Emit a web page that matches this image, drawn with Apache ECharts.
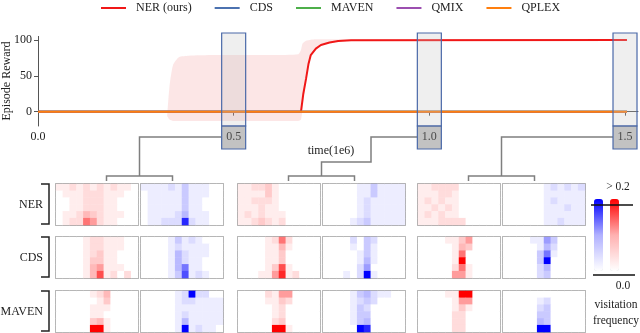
<!DOCTYPE html>
<html>
<head>
<meta charset="utf-8">
<script src="https://cdn.jsdelivr.net/npm/echarts@6/dist/echarts.min.js"></script>
<style>
  html, body { margin: 0; padding: 0; background: #fff; }
  #chart { width: 640px; height: 333px; }
</style>
</head>
<body>
<div id="chart"></div>
<script>
// ===== DATA =====
var methods = ["NER (ours)", "CDS", "MAVEN", "QMIX", "QPLEX"];
var methodColors = ["#f01818", "#4c72b0", "#4daf4a", "#9c4fb0", "#ff7f0e"];

// episode reward vs time (1e6 steps)
var nerT = [0, 0.672, 0.678, 0.685, 0.691, 0.697, 0.71, 0.723, 0.745, 0.767, 0.8, 1.505];
var nerReward = [0, 0, 25, 46, 66, 79, 88, 93, 96.5, 98.7, 99.8, 100];
var baseT = [0, 1.505];
var cdsReward = [0, 0];
var mavenReward = [0, 0];
var qmixReward = [0, 0];
var qplexReward = [0, 0];

// NER shaded band
var bandT = [0.330, 0.336, 0.345, 0.360, 0.385, 0.450, 0.600, 0.665, 0.672, 0.676, 0.685, 0.697, 0.710, 0.723, 0.745, 0.767, 0.800, 1.505];
var bandLow = [-6, -11, -13, -13, -13, -13, -13, -13, -11, 3, 46, 79, 88, 93, 96, 98.5, 99, 99];
var bandHigh = [-6, 35, 65, 76, 78, 79, 79, 80, 86, 95, 99, 100.5, 101, 101, 101, 101, 101, 101];

var xTicks = [0, 0.5, 1.0, 1.5];
var yTicks = [0, 50, 100];
var snapshotT = [0.5, 1.0, 1.5];

var rowNames = ["NER", "CDS", "MAVEN"];

// visitation maps, 6 rows x 12 cols, digit 0..9 -> frequency 0..0.2
var ner05a = ["112121212110", "011122211100", "001122211000", "001122211000", "011243211100", "012265211000"];
var ner05b = ["111121311100", "011111311100", "011111311000", "011111311000", "011112411100", "011222821100"];
var ner10a = ["112231000000", "111131000000", "112221000000", "111211000000", "121211100000", "112321200000"];
var ner10b = ["000001131111", "000001131111", "000001211111", "000001211111", "000001211111", "000012311111"];
var ner15a = ["112222000000", "111221000000", "121211000000", "112121000000", "121211000000", "111222200000"];
var ner15b = ["000000121212", "000000111111", "000000121111", "000000111211", "000000111111", "000000112111"];

var cds05a = ["000012211100", "000012211100", "000012311000", "000013311000", "000014511100", "000014712020"];
var cds05b = ["000013121000", "000012111100", "000014211100", "000014211000", "000014611000", "000013712100"];
var cds10a = ["000012620000", "000011410000", "000011300000", "000011300000", "000013710000", "000115812000"];
var cds10b = ["000020320000", "000010310000", "000001310000", "000001410000", "000002500000", "000102910000"];
var cds15a = ["000011350000", "000001430000", "000001600000", "000001900000", "000002610000", "000005510000"];
var cds15b = ["000011530000", "000001420000", "000003610000", "000003900000", "000002400000", "000002300000"];

var maven05a = ["000001240000", "000000130000", "000001110000", "000001100000", "000003410000", "000009910000"];
var maven05b = ["000001292200", "000001221111", "000001111111", "000001211111", "000001411111", "000001912110"];
var maven10a = ["000021550000", "000011320000", "000001200000", "000001200000", "000002300000", "000009910000"];
var maven10b = ["000013421100", "000012320000", "000013200000", "000013300000", "000013400000", "000009800000"];
var maven15a = ["000011990000", "000001550000", "000001310000", "000002200000", "000002200000", "000002200000"];
var maven15b = ["000000000000", "000001200000", "000002300000", "000003300000", "000004300000", "000009900000"];

var mapRows = [
  [ner05a, ner05b, ner10a, ner10b, ner15a, ner15b],
  [cds05a, cds05b, cds10a, cds10b, cds15a, cds15b],
  [maven05a, maven05b, maven10a, maven10b, maven15a, maven15b]
];

// ===== LAYOUT =====
var FONT = "Liberation Serif";
var panelLeft = [56, 141, 238, 323, 418, 503];
var panelW = 82;
var panelH = 41;
var rowTop = [184, 237, 291];
var gray = "#7f7f7f";

function zip(xs, ys) {
  return xs.map(function (x, i) { return [x, ys[i]]; });
}

function toCells(rows) {
  var out = [];
  rows.forEach(function (r, y) {
    for (var x = 0; x < r.length; x++) {
      out.push([x, y, (+r[x]) / 9 * 0.2]);
    }
  });
  return out;
}

var grids = [{ left: 38, top: 36.4, width: 600, height: 89.6, outerBoundsMode: "none", containLabel: false }];
var xAxes = [{
  type: "value", gridIndex: 0, min: 0, max: 1.5332,
  splitLine: { show: false },
  axisLine: { lineStyle: { color: "#555", width: 1 } },
  axisTick: { customValues: xTicks, length: 4, lineStyle: { color: "#555" } },
  axisLabel: {
    customValues: xTicks, margin: 5, fontFamily: FONT, fontSize: 12, color: "#222",
    formatter: function (v) { return v.toFixed(1); }
  },
  name: "time(1e6)", nameLocation: "middle", nameGap: 19,
  nameTextStyle: { fontFamily: FONT, fontSize: 12, color: "#222", padding: [0, 14, 0, 0] }
}];
var yAxes = [{
  type: "value", gridIndex: 0, min: -20, max: 105,
  splitLine: { show: false },
  axisLine: { show: true, lineStyle: { color: "#555", width: 1 } },
  axisTick: { show: true, customValues: yTicks, length: 4, lineStyle: { color: "#555" } },
  axisLabel: { customValues: yTicks, margin: 6, fontFamily: FONT, fontSize: 12, color: "#222" }
}];

// shaded band as one polygon: upper edge forward, lower edge back
var series = [{
  type: "custom", xAxisIndex: 0, yAxisIndex: 0, silent: true, z: 1,
  data: [0],
  renderItem: function (params, api) {
    var pts = [];
    bandT.forEach(function (t, i) { pts.push(api.coord([t, bandHigh[i]])); });
    for (var i = bandT.length - 1; i >= 0; i--) { pts.push(api.coord([bandT[i], bandLow[i]])); }
    return { type: "polygon", shape: { points: pts, smooth: 0.2 }, style: { fill: "rgba(235,60,60,0.13)" } };
  }
}];
var rewards = [zip(nerT, nerReward), zip(baseT, cdsReward), zip(baseT, mavenReward),
  zip(baseT, qmixReward), zip(baseT, qplexReward)];
methods.forEach(function (m, i) {
  series.push({
    name: m, type: "line", data: rewards[i], symbol: "none",
    lineStyle: { width: 2, color: methodColors[i] }, itemStyle: { color: methodColors[i] }, z: 2
  });
});

var redIdx = [], blueIdx = [];
mapRows.forEach(function (row, r) {
  row.forEach(function (panel, c) {
    var gi = grids.length;
    grids.push({
      left: panelLeft[c], top: rowTop[r], width: panelW, height: panelH, outerBoundsMode: "none",
      show: true, borderColor: gray, borderWidth: 1.5, backgroundColor: "transparent"
    });
    xAxes.push({ type: "category", gridIndex: gi, show: false, data: ["0","1","2","3","4","5","6","7","8","9","10","11"] });
    yAxes.push({ type: "category", gridIndex: gi, show: false, inverse: true, data: ["0","1","2","3","4","5"] });
    (c % 2 === 0 ? redIdx : blueIdx).push(series.length);
    series.push({
      type: "heatmap", xAxisIndex: gi, yAxisIndex: gi, data: toCells(panel),
      emphasis: { disabled: true }, silent: true
    });
  });
});

var chart = echarts.init(document.getElementById("chart"));
chart.setOption({
  animation: false,
  backgroundColor: "#fff",
  legend: {
    data: methods, left: 101, top: 2, padding: 0, icon: "rect", itemWidth: 25, itemHeight: 2, itemGap: 23,
    textStyle: { fontFamily: FONT, fontSize: 12, color: "#222", padding: [0, 0, 0, 5] }
  },
  grid: grids,
  xAxis: xAxes,
  yAxis: yAxes,
  visualMap: [
    {
      type: "continuous", min: 0, max: 0.2, seriesIndex: blueIdx, calculable: false,
      inRange: { color: ["#ffffff", "#b0b0ff", "#0000ff"] }, left: 594, top: 199, itemWidth: 9, itemHeight: 72, padding: 0
    },
    {
      type: "continuous", min: 0, max: 0.2, seriesIndex: redIdx, calculable: false,
      inRange: { color: ["#ffffff", "#ffb0b0", "#ff0000"] }, left: 610, top: 199, itemWidth: 9, itemHeight: 72, padding: 0
    }
  ],
  series: series
});

// ===== DECORATIONS =====
var g = [];
var lineStyle = { stroke: gray, lineWidth: 1.5, fill: null };
var pairCenter = [0, 1, 2].map(function (k) {
  return (panelLeft[2 * k] + panelW + panelLeft[2 * k + 1]) / 2;
});

// y axis title
g.push({
  type: "text", x: 7, y: 81, rotation: Math.PI / 2,
  style: { text: "Episode Reward", font: "12px " + FONT, fill: "#222", align: "center", verticalAlign: "middle" }
});

snapshotT.forEach(function (t, k) {
  var px = chart.convertToPixel({ xAxisIndex: 0 }, t);
  var cx = pairCenter[k];
  var path;
  if (k === 1) {
    path = [[px - 12, 137], [371, 137], [371, 162], [cx, 162], [cx, 176]];
  } else {
    path = [[px - 12, 137], [cx, 137], [cx, 176]];
  }
  g.push({ type: "polyline", shape: { points: path }, style: lineStyle, z: 50 });
  g.push({ type: "polyline", shape: { points: [[cx - 33, 181], [cx - 33, 176], [cx + 33, 176], [cx + 33, 181]] }, style: lineStyle, z: 50 });
  g.push({
    type: "rect", shape: { x: px - 12, y: 33, width: 24, height: 93 },
    style: { fill: "rgba(190,190,190,0.25)", stroke: "#4a69a8", lineWidth: 1.2 }, z: 100
  });
  g.push({
    type: "rect", shape: { x: px - 12, y: 126, width: 24, height: 23 },
    style: { fill: "rgba(120,120,120,0.45)", stroke: "#4a69a8", lineWidth: 1.2 }, z: 100
  });
});

rowNames.forEach(function (name, r) {
  var top = rowTop[r];
  g.push({
    type: "text", x: 43, y: top + 21,
    style: { text: name, font: "12px " + FONT, fill: "#222", align: "right", verticalAlign: "middle" }
  });
  g.push({
    type: "polyline", shape: { points: [[41, top], [49, top], [49, top + 40], [41, top + 40]] },
    style: { stroke: "#222", lineWidth: 1.5, fill: null }
  });
});

g.push({ type: "line", shape: { x1: 591, y1: 205, x2: 633, y2: 205 }, style: { stroke: "#111", lineWidth: 1.5 }, z: 100 });
g.push({ type: "line", shape: { x1: 593, y1: 275, x2: 635, y2: 275 }, style: { stroke: "#111", lineWidth: 1.5 }, z: 100 });
[["> 0.2", 618, 187], ["0.0", 623, 286], ["visitation", 616, 305], ["frequency", 616, 321]].forEach(function (d) {
  g.push({
    type: "text", x: d[1], y: d[2],
    style: { text: d[0], font: "11.5px " + FONT, fill: "#222", align: "center", verticalAlign: "middle" }
  });
});

chart.setOption({ graphic: g });
</script>
</body>
</html>
